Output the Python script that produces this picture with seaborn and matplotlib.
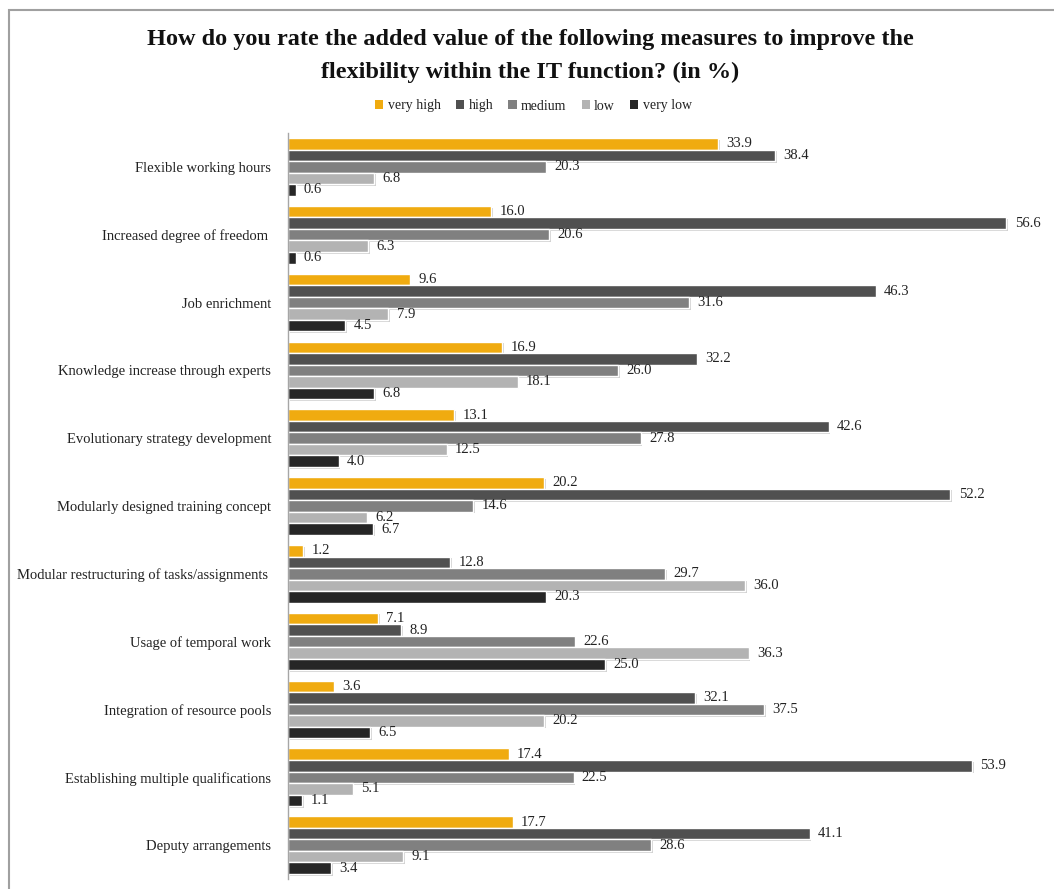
import matplotlib
matplotlib.use("Agg")
import matplotlib.pyplot as plt
import matplotlib.patheffects as pe
from matplotlib.patches import Rectangle, Patch
import pandas as pd
import seaborn as sns

measures = [
    "Flexible working hours",
    "Increased degree of freedom ",
    "Job enrichment",
    "Knowledge increase through experts",
    "Evolutionary strategy development",
    "Modularly designed training concept",
    "Modular restructuring of tasks/assignments ",
    "Usage of temporal work",
    "Integration of resource pools",
    "Establishing multiple qualifications",
    "Deputy arrangements",
]
ratings = ["very high", "high", "medium", "low", "very low"]

very_high = [33.9, 16.0, 9.6, 16.9, 13.1, 20.2, 1.2, 7.1, 3.6, 17.4, 17.7]
high = [38.4, 56.6, 46.3, 32.2, 42.6, 52.2, 12.8, 8.9, 32.1, 53.9, 41.1]
medium = [20.3, 20.6, 31.6, 26.0, 27.8, 14.6, 29.7, 22.6, 37.5, 22.5, 28.6]
low = [6.8, 6.3, 7.9, 18.1, 12.5, 6.2, 36.0, 36.3, 20.2, 5.1, 9.1]
very_low = [0.6, 0.6, 4.5, 6.8, 4.0, 6.7, 20.3, 25.0, 6.5, 1.1, 3.4]

colors = ["#F0AB10", "#505050", "#808080", "#B3B3B3", "#262626"]

series = [very_high, high, medium, low, very_low]
rows = []
for rating, vals in zip(ratings, series):
    for m, v in zip(measures, vals):
        rows.append({"measure": m, "rating": rating, "value": v})
df = pd.DataFrame(rows)

sns.set_theme(style="white")
plt.rcParams["font.family"] = ["Liberation Serif", "DejaVu Serif"]

fig = plt.figure(figsize=(10.54, 8.89), dpi=100)
ax = fig.add_axes([288 / 1054, 1 - 879 / 889, 757 / 1054, 746 / 889])

sns.barplot(
    data=df, y="measure", x="value", hue="rating",
    order=measures, hue_order=ratings, palette=colors, saturation=1,
    orient="h", width=0.85, edgecolor="white", linewidth=1.0,
    errorbar=None, legend=False, ax=ax,
)

shadow = [pe.SimplePatchShadow(offset=(1.2, -1.2), shadow_rgbFace="#9a9a9a", alpha=0.45), pe.Normal()]
for cont in ax.containers:
    for bar in cont:
        bar.set_path_effects(shadow)
    ax.bar_label(cont, fmt="%.1f", padding=6, fontsize=10.5, color="#222222")

ax.set_xlim(0, 757 / 12.69)
ax.set_xlabel("")
ax.set_ylabel("")
ax.set_xticks([])
ax.tick_params(axis="y", length=0, pad=12, labelsize=10.5, labelcolor="#222222")
for s in ["top", "right", "bottom"]:
    ax.spines[s].set_visible(False)
ax.spines["left"].set_color("#A6A6A6")
ax.spines["left"].set_linewidth(1.0)

fig.text(0.503, 1 - 40 / 889,
         "How do you rate the added value of the following measures to improve the",
         ha="center", va="center", fontsize=17.5, fontweight="bold", color="#111111")
fig.text(0.503, 1 - 72 / 889,
         "flexibility within the IT function? (in %)",
         ha="center", va="center", fontsize=17.5, fontweight="bold", color="#111111")

handles = [Patch(facecolor=c, edgecolor="none") for c in colors]
fig.legend(handles, ratings, loc="center", bbox_to_anchor=(0.506, 1 - 106 / 889),
           ncol=5, frameon=False, fontsize=10, handlelength=0.6, handleheight=0.6,
           handletextpad=0.3, columnspacing=1.1, labelcolor="#222222")

frame = Rectangle((9 / 1054, -0.05), 1.2, 1 - 10 / 889 + 0.05, transform=fig.transFigure,
                  fill=False, edgecolor="#A0A0A0", linewidth=1.5)
fig.patches.append(frame)

fig.savefig("out.png", dpi=100)
